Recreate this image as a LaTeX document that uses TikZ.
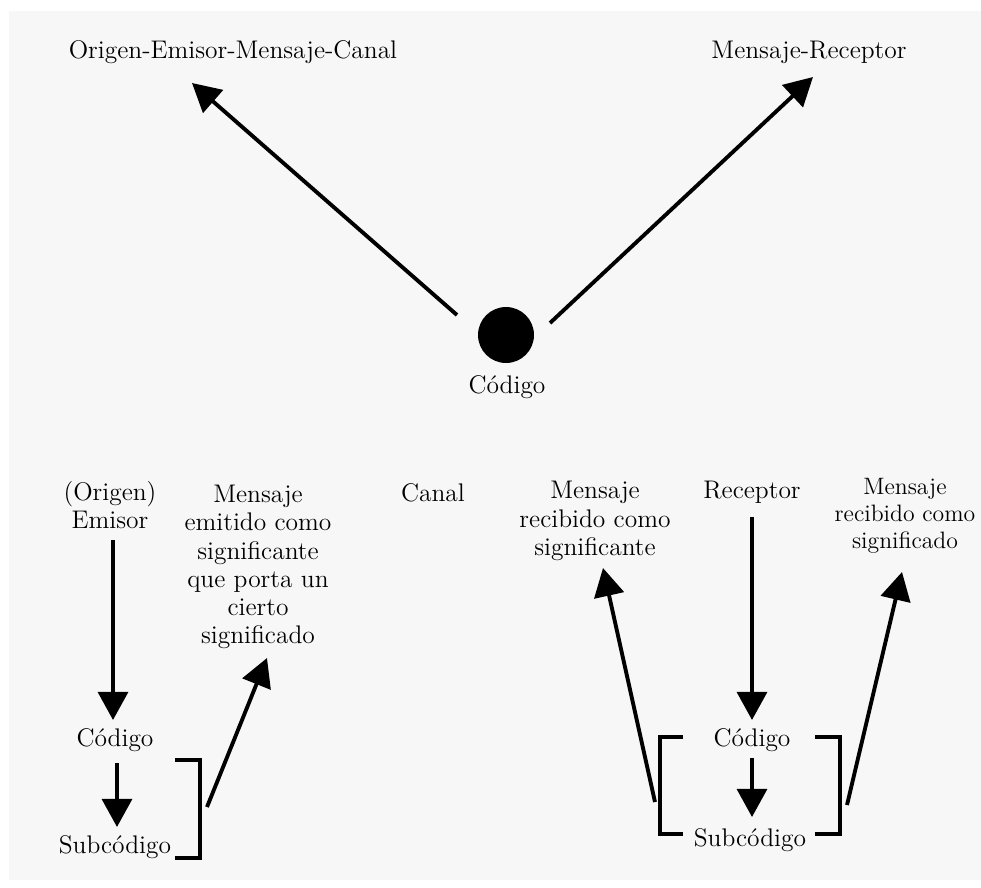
\documentclass[tikz,border=0pt]{standalone}
\usepackage{amsmath}
\usepackage{tikz}
\usetikzlibrary{arrows.meta}
\usetikzlibrary{calc}

\begin{document}
\begin{tikzpicture}[x=0.02cm,y=-0.02cm,
  lbl/.style={align=center,inner sep=1pt,font=\fontsize{14.5}{16}\selectfont},
  smalllbl/.style={lbl,font=\fontsize{13.5}{15.5}\selectfont},
  arr/.style={line width=2.2pt,-{Triangle[length=16pt,width=17pt]}},
  brk/.style={line width=2.2pt}]
\useasboundingbox (0,0) rectangle (981,887);
\fill[black!3] (9,11) rectangle (981,880);
\draw (233,52) node (oemc) [lbl] {Origen-Emisor-Mensaje-Canal};
\draw (809,52) node (mrec) [lbl] {Mensaje-Receptor};
\draw (506,335) node (dot) [circle,fill=black,minimum size=1.12cm] {};
\draw (507,387) node (codtop) [lbl] {C\'odigo};
\draw ($(dot)+(-49,-20)$) [arr] -- ($(oemc)+(-41,31)$);
\draw ($(dot)+(44,-12)$) [arr] -- ($(mrec)+(4,25)$);
\draw (110,505) node (emisor) [lbl] {(Origen)\\Emisor};
\draw (258,567) node (memit) [lbl] {Mensaje\\emitido como\\significante\\que porta un\\cierto\\significado};
\draw (433,493) node (canal) [lbl] {Canal};
\draw (595,521) node (mrsig) [lbl] {Mensaje\\recibido como\\significante};
\draw (752,492) node (recep) [lbl] {Receptor};
\draw (905,516) node (mrsignif) [smalllbl] {Mensaje\\recibido como\\significado};
\draw (115,740) node (codL) [lbl] {C\'odigo};
\draw (115,847) node (subL) [lbl] {Subc\'odigo};
\draw (752,740) node (codR) [lbl] {C\'odigo};
\draw (750,840) node (subR) [lbl] {Subc\'odigo};
\draw ($(emisor)+(3,35)$) [arr] -- ($(codL)+(-2,-20)$);
\draw ($(codL)+(2,23)$) [arr] -- ($(subL)+(2,-20)$);
\draw [brk] ($(subL)+(60,-87)$) -- ++(25,0) -- ++(0,98) -- ++(-25,0);
\draw ($(subL)+(92,-40)$) [arr] -- ($(memit)+(9,91)$);
\draw ($(recep)+(0,25)$) [arr] -- ($(codR)+(0,-20)$);
\draw ($(codR)+(0,18)$) [arr] -- ($(subR)+(2,-23)$);
\draw [brk] ($(subR)+(-67,-103)$) -- ++(-23,0) -- ++(0,97) -- ++(23,0);
\draw [brk] ($(subR)+(65,-103)$) -- ++(25,0) -- ++(0,97) -- ++(-25,0);
\draw ($(subR)+(-95,-38)$) [arr] -- ($(mrsig)+(8,47)$);
\draw ($(subR)+(97,-35)$) [arr] -- ($(mrsignif)+(-3,56)$);
\end{tikzpicture}
\end{document}
